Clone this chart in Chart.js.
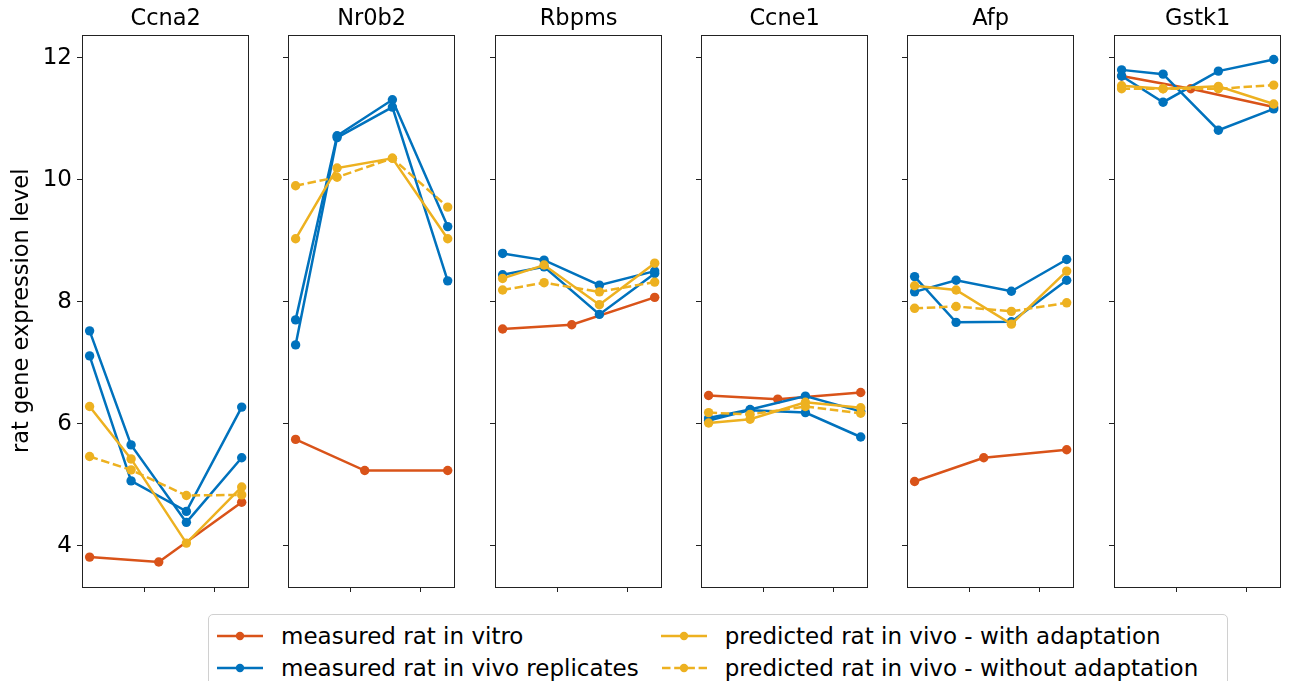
<!DOCTYPE html>
<html>
<head>
<meta charset="utf-8">
<script src="https://cdn.jsdelivr.net/npm/chart.js@4.4.1/dist/chart.umd.min.js"></script>
<style>
  html, body { margin:0; padding:0; background:#fff; width:1291px; height:681px; overflow:hidden;
    font-family:'DejaVu Sans', sans-serif; }
  canvas.panel { position:absolute; top:0; }
  #legend { position:absolute; left:208px; top:614px; width:1020px; height:90px; box-sizing:border-box;
    border:1px solid #d0d0d0; border-radius:5px; padding:5px 0 0 8px;
    display:grid; grid-template-columns:auto auto; grid-auto-rows:32px; align-content:start;
    column-gap:22px; justify-content:start;
    font-size:23px; color:#000; }
  .item { display:flex; align-items:center; height:32px; white-space:nowrap; }
  .item svg { margin-right:18px; flex:none; }
</style>
</head>
<body>
<div id="legend"></div>
<script>
// genes (one panel each) and sampling days
const genes = ['Ccna2', 'Nr0b2', 'Rbpms', 'Ccne1', 'Afp', 'Gstk1'];
const vitroDays = [1, 6, 12];
const vivoDays = [1, 4, 8, 12];
const xTicks = [5, 10];
const yTicks = [4, 6, 8, 10, 12];

// measured rat in vitro
const vitro = [
  [3.81, 3.73, 4.71],
  [5.74, 5.23, 5.23],
  [7.55, 7.62, 8.07],
  [6.46, 6.40, 6.51],
  [5.05, 5.44, 5.57],
  [11.70, 11.49, 11.19],
];
// measured rat in vivo, two replicates
const vivoRep1 = [
  [7.52, 5.65, 4.38, 5.44],
  [7.70, 10.72, 11.31, 9.23],
  [8.79, 8.68, 8.27, 8.50],
  [6.09, 6.23, 6.45, 6.20],
  [8.41, 7.66, 7.67, 8.35],
  [11.80, 11.73, 10.81, 11.16],
];
const vivoRep2 = [
  [7.11, 5.06, 4.56, 6.27],
  [7.29, 10.69, 11.19, 8.34],
  [8.44, 8.57, 7.79, 8.46],
  [6.05, 6.22, 6.18, 5.78],
  [8.16, 8.35, 8.17, 8.69],
  [11.70, 11.27, 11.78, 11.97],
];
// predicted rat in vivo
const predAdapt = [
  [6.28, 5.42, 4.04, 4.96],
  [9.03, 10.19, 10.35, 9.03],
  [8.38, 8.60, 7.95, 8.63],
  [6.01, 6.07, 6.35, 6.26],
  [8.26, 8.19, 7.63, 8.50],
  [11.54, 11.49, 11.53, 11.24],
];
const predNoAdapt = [
  [5.46, 5.24, 4.82, 4.83],
  [9.90, 10.04, 10.35, 9.55],
  [8.19, 8.31, 8.16, 8.32],
  [6.18, 6.15, 6.28, 6.17],
  [7.89, 7.92, 7.84, 7.98],
  [11.49, 11.49, 11.49, 11.55],
];

const RED = '#D95319', BLUE = '#0072BD', YEL = '#EDB120';
const FONT = 'DejaVu Sans';
const DASH = [8.5, 3.7];

const legendItems = [
  { label: 'measured rat in vitro', color: RED, dash: false },
  { label: 'predicted rat in vivo - with adaptation', color: YEL, dash: false },
  { label: 'measured rat in vivo replicates', color: BLUE, dash: false },
  { label: 'predicted rat in vivo - without adaptation', color: YEL, dash: true },
];

// frame round each axes box
const frame = {
  id: 'frame',
  afterDraw(c) {
    const a = c.chartArea, ctx = c.ctx;
    ctx.save();
    ctx.strokeStyle = '#222';
    ctx.lineWidth = 1;
    ctx.strokeRect(Math.round(a.left) + 0.5, Math.round(a.top) + 0.5,
      Math.round(a.right - a.left) - 1, Math.round(a.bottom - a.top) - 1);
    ctx.restore();
  }
};

function pts(days, vals) {
  return days.map((d, k) => ({ x: d, y: vals[k] }));
}

function series(data, color, dashed, order) {
  return {
    data, order,
    borderColor: color, backgroundColor: color,
    pointBackgroundColor: color, pointBorderWidth: 0,
    pointRadius: 4.7, pointHoverRadius: 4.7,
    borderWidth: 2.5, borderDash: dashed ? DASH : [],
    tension: 0,
  };
}

const panelW = 171, panelStep = 206.3, panelX0 = 82, H = 597;

genes.forEach((g, i) => {
  const padL = i === 0 ? 82 : 10;
  const left = Math.round(panelX0 + panelStep * i);
  const cv = document.createElement('canvas');
  cv.className = 'panel';
  cv.width = padL + panelW + 1;
  cv.height = H;
  cv.style.left = (left - padL) + 'px';
  document.body.appendChild(cv);

  new Chart(cv, {
    type: 'line',
    data: {
      datasets: [
        series(pts(vitroDays, vitro[i]), RED, false, 5),
        series(pts(vivoDays, vivoRep1[i]), BLUE, false, 4),
        series(pts(vivoDays, vivoRep2[i]), BLUE, false, 3),
        series(pts(vivoDays, predAdapt[i]), YEL, false, 2),
        series(pts(vivoDays, predNoAdapt[i]), YEL, true, 1),
      ],
    },
    options: {
      responsive: false,
      animation: false,
      events: [],
      layout: { padding: { right: 1 } },
      plugins: {
        legend: { display: false },
        tooltip: { enabled: false },
        title: {
          display: true, text: g, color: '#000', fullSize: false,
          font: { family: FONT, size: 22.5, weight: 'normal' },
          padding: { top: 6, bottom: 1.5 },
        },
      },
      scales: {
        x: {
          type: 'linear', min: 0.45, max: 12.55,
          afterBuildTicks: s => { s.ticks = xTicks.map(v => ({ value: v })); },
          afterFit: s => { s.height = 10; s.paddingLeft = 0; s.paddingRight = 0; },
          ticks: { callback: () => '' },
          grid: { drawOnChartArea: false, drawTicks: true, tickLength: 5, color: '#222' },
          border: { display: false },
        },
        y: {
          type: 'linear', min: 3.32, max: 12.38,
          afterBuildTicks: s => { s.ticks = yTicks.map(v => ({ value: v })); },
          afterFit: s => { s.width = padL; s.paddingTop = 0; s.paddingBottom = 0; },
          ticks: {
            callback: v => (i === 0 ? v : ''),
            color: '#000', padding: 5,
            font: { family: FONT, size: 23 },
          },
          grid: { drawOnChartArea: false, drawTicks: true, tickLength: 5, color: '#222' },
          border: { display: false },
          title: {
            display: i === 0, text: 'rat gene expression level', color: '#000',
            font: { family: FONT, size: 22.5 },
            padding: { top: 9, bottom: 0 },
          },
        },
      },
    },
    plugins: [frame],
  });
});

// legend below the panels
const legend = document.getElementById('legend');
legendItems.forEach(it => {
  const row = document.createElement('div');
  row.className = 'item';
  row.innerHTML = `
    <svg width="46" height="20" viewBox="0 0 46 20">
      <line x1="0" y1="10" x2="46" y2="10" stroke="${it.color}" stroke-width="2.3"
        ${it.dash ? 'stroke-dasharray="8.5 3.7" stroke-dashoffset="-1"' : ''}/>
      <circle cx="23" cy="10" r="4.2" fill="${it.color}"/>
    </svg><span>${it.label}</span>`;
  legend.appendChild(row);
});
</script>
</body>
</html>
